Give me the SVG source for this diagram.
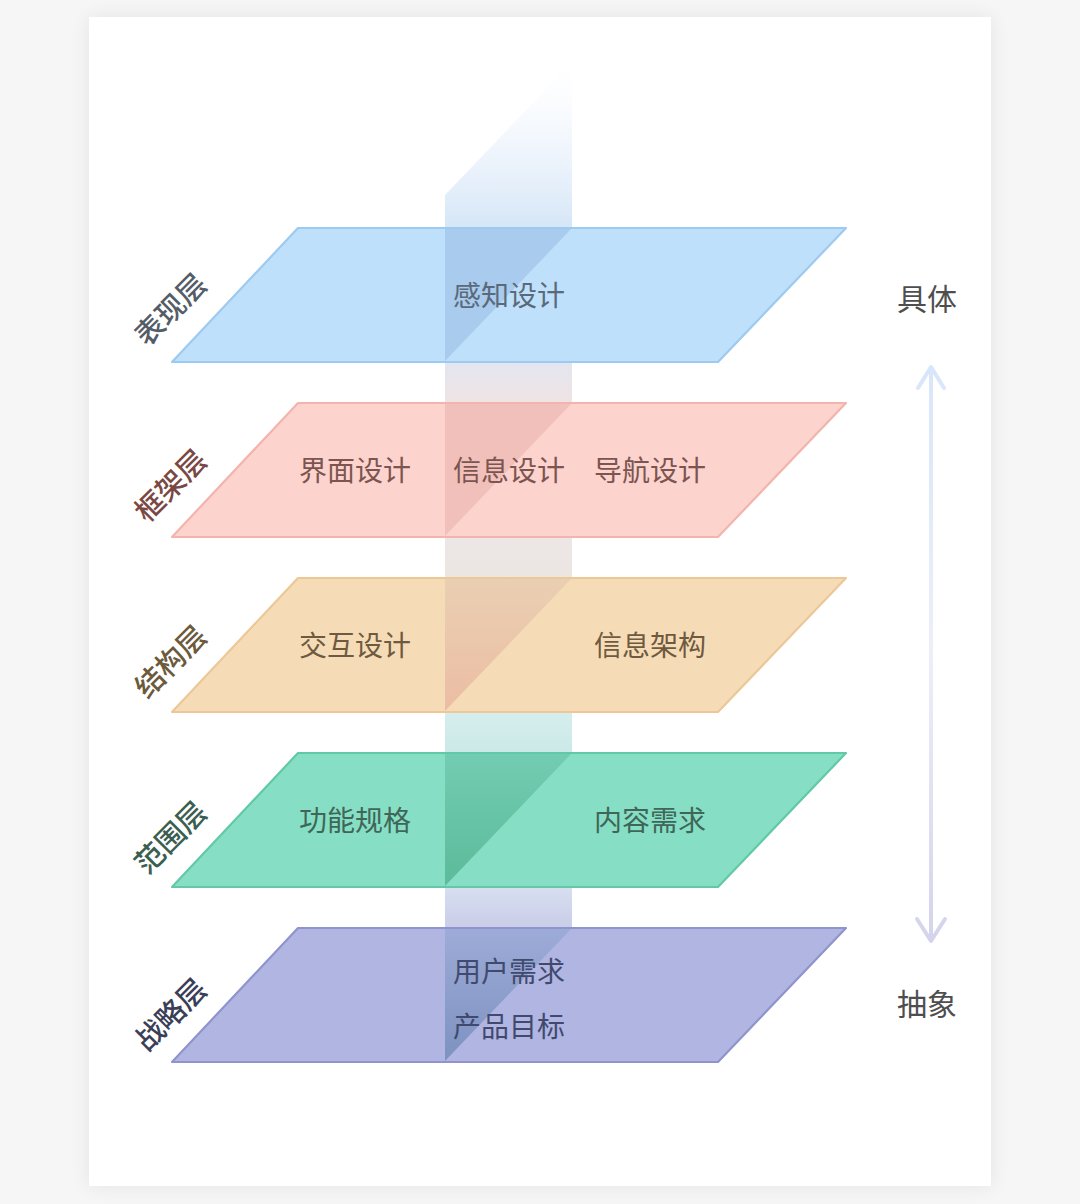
<svg xmlns="http://www.w3.org/2000/svg" width="1080" height="1204" viewBox="0 0 1080 1204">
<style>
.lt{font-family:"Noto Sans CJK SC","Noto Sans",sans-serif;font-size:28px;text-anchor:middle}
.side{font-family:"Noto Sans CJK SC","Noto Sans",sans-serif;font-size:29px;font-weight:500;text-anchor:middle}
.rt{font-family:"Noto Sans CJK SC","Noto Sans",sans-serif;font-size:30px;text-anchor:middle;fill:#4e4e4e}
.ly{stroke-width:2.2;stroke-linejoin:round}
</style>
<defs>
<filter id="sh" x="-10%" y="-10%" width="120%" height="120%">
<feGaussianBlur in="SourceAlpha" stdDeviation="10"/>
<feComponentTransfer><feFuncA type="linear" slope="0.08"/></feComponentTransfer>
<feMerge><feMergeNode/><feMergeNode in="SourceGraphic"/></feMerge>
</filter>
<linearGradient id="band" gradientUnits="userSpaceOnUse" x1="0" y1="62" x2="0" y2="1062">
<stop offset="0" stop-color="#f4f9ff" stop-opacity="0"/>
<stop offset="0.09" stop-color="#e4eefa" stop-opacity="0.6"/>
<stop offset="0.166" stop-color="#d5e6f7"/>
<stop offset="0.30" stop-color="#e3e6f0"/>
<stop offset="0.341" stop-color="#efe3e3"/>
<stop offset="0.475" stop-color="#ede6e6"/>
<stop offset="0.516" stop-color="#ebe6e2"/>
<stop offset="0.65" stop-color="#d6eeee"/>
<stop offset="0.691" stop-color="#cbe9e6"/>
<stop offset="0.825" stop-color="#d8dff0"/>
<stop offset="0.866" stop-color="#c9cde8"/>
<stop offset="1" stop-color="#c9cde8"/>
</linearGradient>
<linearGradient id="tOr" x1="0" y1="0" x2="0" y2="1"><stop offset="0" stop-color="#eacfb2"/><stop offset="1" stop-color="#ebbda3"/></linearGradient>
<linearGradient id="tGr" x1="0" y1="0" x2="0" y2="1"><stop offset="0" stop-color="#72ccb1"/><stop offset="1" stop-color="#5cbb9b"/></linearGradient>
<linearGradient id="tPu" x1="0" y1="0" x2="0" y2="1"><stop offset="0" stop-color="#9dabd8"/><stop offset="1" stop-color="#7d92c0"/></linearGradient>
<linearGradient id="arr" gradientUnits="userSpaceOnUse" x1="0" y1="360" x2="0" y2="945">
<stop offset="0" stop-color="#d8e5fa"/>
<stop offset="0.5" stop-color="#eceff8"/>
<stop offset="1" stop-color="#d3d3ed"/>
</linearGradient>
</defs>
<rect width="1080" height="1204" fill="#f6f6f6"/>
<rect x="89" y="17" width="902" height="1169" fill="#ffffff" filter="url(#sh)"/>

<g id="band">
<polygon points="445,195 572,62 572,1062 445,1062" fill="url(#band)"/>
</g>

<g id="layer-biaoxian">
<polygon class="ly" points="298,228 846,228 718,362 172,362" fill="#bee0fa" stroke="#9dcaf0"/>
<polygon points="445,229 571,229 445,361" fill="#a8cbee"/>
<text class="lt" x="509" y="306" fill="#5a6a7a">感知设计</text>
<text class="side" transform="translate(171,310) rotate(-45)" y="10" fill="#545d67">表现层</text>
</g>

<g id="layer-kuangjia">
<polygon class="ly" points="298,403 846,403 718,537 172,537" fill="#fdd3ce" stroke="#f2b4ac"/>
<polygon points="445,404 571,404 445,536" fill="#f1c0ba"/>
<text class="lt" x="355" y="481" fill="#7c5550">界面设计</text>
<text class="lt" x="509" y="481" fill="#7c5550">信息设计</text>
<text class="lt" x="650" y="481" fill="#7c5550">导航设计</text>
<text class="side" transform="translate(171,486) rotate(-45)" y="10" fill="#7a4844">框架层</text>
</g>

<g id="layer-jiegou">
<polygon class="ly" points="298,578 846,578 718,712 172,712" fill="#f6dcb6" stroke="#ecc797"/>
<polygon points="445,579 571,579 445,711" fill="url(#tOr)"/>
<text class="lt" x="355" y="656" fill="#6e5a40">交互设计</text>
<text class="lt" x="650" y="656" fill="#6e5a40">信息架构</text>
<text class="side" transform="translate(171,662) rotate(-45)" y="10" fill="#6b5a3c">结构层</text>
</g>

<g id="layer-fanwei">
<polygon class="ly" points="298,753 846,753 718,887 172,887" fill="#86dfc4" stroke="#62c9a6"/>
<polygon points="445,754 571,754 445,886" fill="url(#tGr)"/>
<text class="lt" x="355" y="831" fill="#3f6658">功能规格</text>
<text class="lt" x="650" y="831" fill="#3f6658">内容需求</text>
<text class="side" transform="translate(171,838) rotate(-45)" y="10" fill="#3b5e50">范围层</text>
</g>

<g id="layer-zhanlue">
<polygon class="ly" points="298,928 846,928 718,1062 172,1062" fill="#b0b5e2" stroke="#8f95cc"/>
<polygon points="445,929 571,929 445,1061" fill="url(#tPu)"/>
<text class="lt" x="509" y="982" fill="#414a6e">用户需求</text>
<text class="lt" x="509" y="1037" fill="#414a6e">产品目标</text>
<text class="side" transform="translate(171,1015) rotate(-45)" y="10" fill="#3a3e56">战略层</text>
</g>

<g id="label-juti"><text class="rt" x="927" y="310">具体</text></g>
<g id="label-chouxiang"><text class="rt" x="927" y="1015">抽象</text></g>

<g id="connectors" fill="none" stroke="url(#arr)" stroke-width="4" stroke-linecap="round" stroke-linejoin="round">
<line x1="931" y1="368" x2="931" y2="940"/>
<polyline points="918,388 931,367 944,388"/>
<polyline points="917,919 931,941 945,919"/>
</g>
</svg>
